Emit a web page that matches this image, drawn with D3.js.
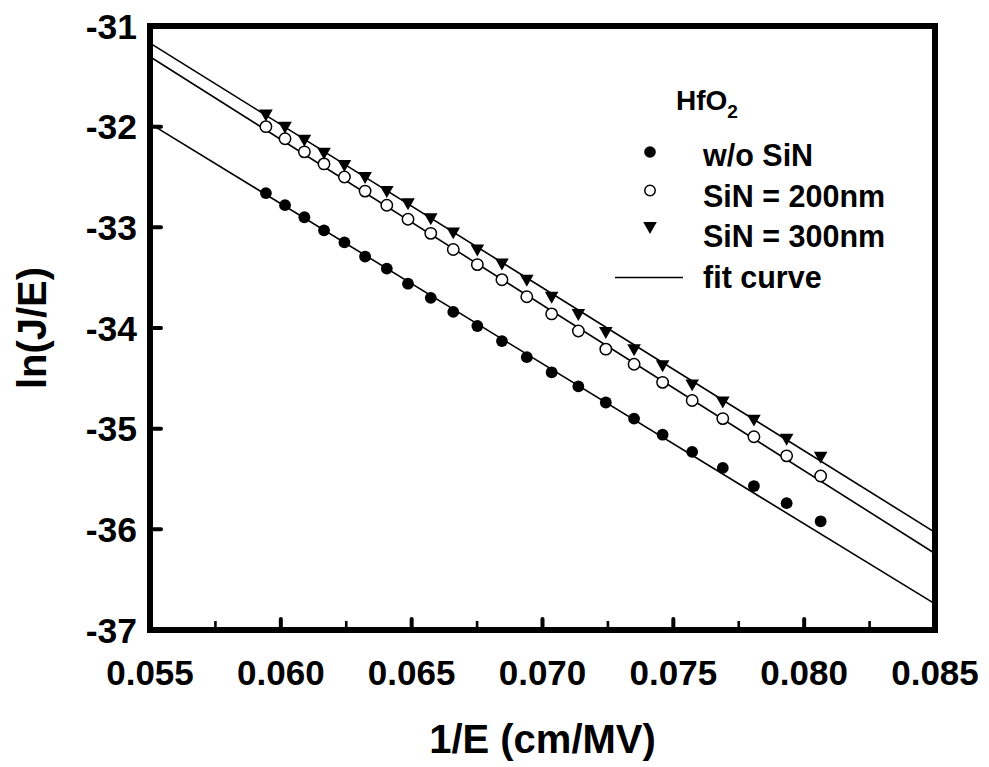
<!DOCTYPE html>
<html>
<head>
<meta charset="utf-8">
<script src="https://cdn.jsdelivr.net/npm/d3@7/dist/d3.min.js"></script>
<style>
  html, body { margin: 0; padding: 0; background: #fff; }
  svg { display: block; }
  text { font-family: "Liberation Sans", Arial, sans-serif; font-weight: bold; fill: #000; }
</style>
</head>
<body>
<svg id="chart" width="989" height="767"></svg>
<script>
// ---- data ----
const invE = [0.05943, 0.06016, 0.06090, 0.06165, 0.06243, 0.06322, 0.06405, 0.06486,
              0.06573, 0.06659, 0.06751, 0.06845, 0.06940, 0.07035, 0.07137, 0.07242,
              0.07350, 0.07459, 0.07572, 0.07689, 0.07808, 0.07933, 0.08063];
const woSiN = [-32.66, -32.78, -32.90, -33.03, -33.15, -33.29, -33.41, -33.56,
               -33.70, -33.84, -33.98, -34.13, -34.29, -34.44, -34.58, -34.74,
               -34.90, -35.06, -35.23, -35.39, -35.57, -35.74, -35.92];
const siN200 = [-32.00, -32.12, -32.25, -32.37, -32.50, -32.64, -32.78, -32.92,
                -33.06, -33.22, -33.37, -33.52, -33.69, -33.86, -34.03, -34.21,
                -34.36, -34.54, -34.72, -34.90, -35.08, -35.27, -35.47];
const siN300 = [-31.89, -32.01, -32.14, -32.27, -32.39, -32.51, -32.65, -32.77,
                -32.92, -33.06, -33.23, -33.37, -33.53, -33.70, -33.87, -34.05,
                -34.22, -34.38, -34.57, -34.74, -34.92, -35.11, -35.29];
// fit lines: values at x = 0.055 and x = 0.085
const fitX = [0.055, 0.085];
const fitWoSiN = [-31.97, -36.74];
const fitSiN200 = [-31.305, -36.24];
const fitSiN300 = [-31.17, -36.03];
const xMajorTicks = [0.055, 0.060, 0.065, 0.070, 0.075, 0.080, 0.085];
const xMinorTicks = [0.0575, 0.0625, 0.0675, 0.0725, 0.0775, 0.0825];
const yTicks = [-37, -36, -35, -34, -33, -32, -31];
const legendLabels = ["w/o SiN", "SiN = 200nm", "SiN = 300nm", "fit curve"];

// ---- layout ----
const svg = d3.select("#chart");
const L = 150, R = 935, T = 26, B = 630;
const x = d3.scaleLinear().domain([0.055, 0.085]).range([L, R]);
const y = d3.scaleLinear().domain([-37, -31]).range([B, T]);

svg.append("defs").append("clipPath").attr("id", "clip")
  .append("rect").attr("x", L).attr("y", T).attr("width", R - L).attr("height", B - T);

// fit lines
const line = d3.line().x(d => x(d[0])).y(d => y(d[1]));
const plot = svg.append("g").attr("clip-path", "url(#clip)");
[fitWoSiN, fitSiN200, fitSiN300].forEach(f => {
  plot.append("path")
    .attr("d", line(fitX.map((v, i) => [v, f[i]])))
    .attr("fill", "none").attr("stroke", "#000").attr("stroke-width", 1.6);
});

// markers
const triDown = {
  draw(ctx, size) {
    const w = Math.sqrt(size) / 2, h = w * 0.88;
    ctx.moveTo(-w, -h); ctx.lineTo(w, -h); ctx.lineTo(0, h); ctx.closePath();
  }
};
const triPath = d3.symbol().type(triDown).size(185)();

svg.append("g").selectAll("circle").data(invE.map((v, i) => [v, woSiN[i]]))
  .join("circle").attr("cx", d => x(d[0])).attr("cy", d => y(d[1]))
  .attr("r", 5.9).attr("fill", "#000");
svg.append("g").selectAll("circle").data(invE.map((v, i) => [v, siN200[i]]))
  .join("circle").attr("cx", d => x(d[0])).attr("cy", d => y(d[1]))
  .attr("r", 5.7).attr("fill", "#fff").attr("stroke", "#000").attr("stroke-width", 1.5);
svg.append("g").selectAll("path").data(invE.map((v, i) => [v, siN300[i]]))
  .join("path").attr("d", triPath)
  .attr("transform", d => `translate(${x(d[0])},${y(d[1])})`)
  .attr("fill", "#000");

// axes ticks (inward)
const xAxis = svg.append("g");
xAxis.selectAll("line.maj").data(xMajorTicks).join("line")
  .attr("x1", d => x(d)).attr("x2", d => x(d)).attr("y1", B).attr("y2", B - 11)
  .attr("stroke", "#000").attr("stroke-width", 4).attr("stroke-linecap", "round");
xAxis.selectAll("line.min").data(xMinorTicks).join("line")
  .attr("x1", d => x(d)).attr("x2", d => x(d)).attr("y1", B).attr("y2", B - 9)
  .attr("stroke", "#000").attr("stroke-width", 2.6);
xAxis.selectAll("text").data(xMajorTicks).join("text")
  .attr("x", d => x(d)).attr("y", 685).attr("text-anchor", "middle")
  .attr("font-size", 35).text(d => d3.format(".3f")(d));

const yAxis = svg.append("g");
yAxis.selectAll("line").data(yTicks).join("line")
  .attr("x1", L).attr("x2", L + 11).attr("y1", d => y(d)).attr("y2", d => y(d))
  .attr("stroke", "#000").attr("stroke-width", 4).attr("stroke-linecap", "round");
yAxis.selectAll("text").data(yTicks).join("text")
  .attr("x", 137).attr("y", d => y(d) + 12.5).attr("text-anchor", "end")
  .attr("font-size", 35.5).text(d => d);

// frame
svg.append("rect").attr("x", L).attr("y", T).attr("width", R - L).attr("height", B - T)
  .attr("fill", "none").attr("stroke", "#000").attr("stroke-width", 6);

// axis titles
svg.append("text").attr("x", (L + R) / 2).attr("y", 753).attr("text-anchor", "middle")
  .attr("font-size", 40).text("1/E (cm/MV)");
svg.append("text").attr("transform", `translate(46,${(T + B) / 2}) rotate(-90)`)
  .attr("text-anchor", "middle").attr("font-size", 40).text("ln(J/E)");

// legend
const lg = svg.append("g");
const title = lg.append("text").attr("x", 676).attr("y", 110).attr("font-size", 28);
title.append("tspan").text("HfO");
title.append("tspan").attr("font-size", 19).attr("dy", 8).text("2");

const rowY = [166, 206.5, 247, 287.5];
const mX = 650;
lg.append("circle").attr("cx", mX).attr("cy", rowY[0] - 14).attr("r", 5.8).attr("fill", "#000");
lg.append("circle").attr("cx", mX).attr("cy", rowY[1] - 16).attr("r", 5.2)
  .attr("fill", "#fff").attr("stroke", "#000").attr("stroke-width", 1.5);
lg.append("path").attr("d", triPath).attr("transform", `translate(${mX},${rowY[2] - 19})`).attr("fill", "#000");
lg.append("line").attr("x1", 615).attr("x2", 683).attr("y1", rowY[3] - 10).attr("y2", rowY[3] - 10)
  .attr("stroke", "#000").attr("stroke-width", 1.6);
lg.selectAll("text.lab").data(legendLabels).join("text").attr("class", "lab")
  .attr("x", 703).attr("y", (d, i) => rowY[i]).attr("font-size", 30.5).text(d => d);
</script>
</body>
</html>
